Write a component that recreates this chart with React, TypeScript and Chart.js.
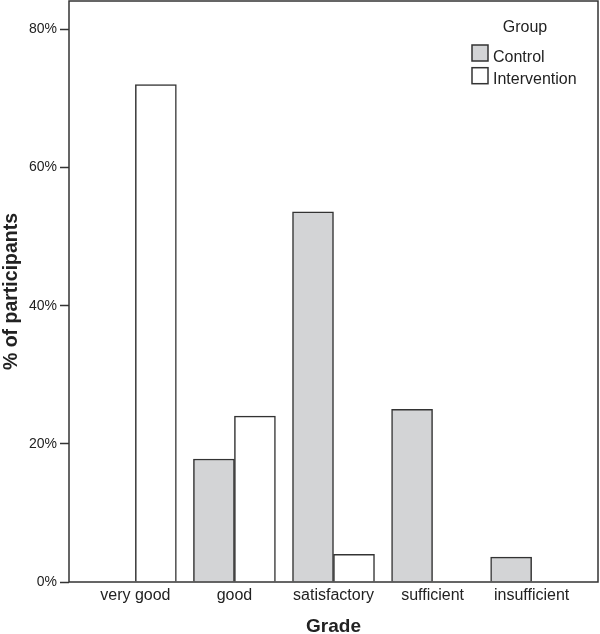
import React, { useEffect, useRef } from 'react';
import { Chart, registerables } from 'chart.js';

Chart.register(...registerables);

const categories = ['very good', 'good', 'satisfactory', 'sufficient', 'insufficient'];
const controlValues = [0, 17.8, 53.6, 25.0, 3.6];
const interventionValues = [72.0, 24.0, 4.0, 0, 0];
const seriesNames = ['Control', 'Intervention'];
const seriesColors = ['#d3d4d6', '#ffffff'];
const yTickValues = [0, 20, 40, 60, 80];
const legendTitle = 'Group';
const xTitle = 'Grade';
const yTitle = '% of participants';

const FONT = "'Liberation Sans', Arial, Helvetica, sans-serif";
const INK = '#222222';
const LINE = '#333333';

const framePlugin = {
  id: 'frame',
  afterDatasetsDraw(chart: any) {
    const { ctx, chartArea } = chart;
    ctx.save();
    ctx.strokeStyle = LINE;
    ctx.lineWidth = 1.5;
    ctx.strokeRect(chartArea.left, chartArea.top, chartArea.right - chartArea.left, chartArea.bottom - chartArea.top);
    ctx.restore();
  },
};

const legendPlugin = {
  id: 'customLegend',
  afterDraw(chart: any) {
    const { ctx, chartArea } = chart;
    const boxLeft = chartArea.right - 126;
    const top = chartArea.top;
    ctx.save();
    ctx.font = `16px ${FONT}`;
    ctx.fillStyle = INK;
    ctx.textAlign = 'center';
    ctx.textBaseline = 'alphabetic';
    ctx.fillText(legendTitle, boxLeft + 53, top + 31);
    chart.data.datasets.forEach((ds: any, i: number) => {
      const y = top + 44 + i * 22.7;
      ctx.fillStyle = ds.backgroundColor;
      ctx.fillRect(boxLeft, y, 16, 16);
      ctx.strokeStyle = LINE;
      ctx.lineWidth = 1.5;
      ctx.strokeRect(boxLeft, y, 16, 16);
      ctx.fillStyle = INK;
      ctx.textAlign = 'left';
      ctx.fillText(ds.label, boxLeft + 21, y + 16.5);
    });
    ctx.restore();
  },
};

export default function App() {
  const canvasRef = useRef<HTMLCanvasElement | null>(null);

  useEffect(() => {
    document.body.style.margin = '0';
    const canvas = canvasRef.current;
    if (!canvas) return;
    const chart = new Chart(canvas, {
      type: 'bar',
      data: {
        datasets: [
          {
            label: seriesNames[0],
            data: categories.map((_, i) => ({ x: i, y: controlValues[i] })),
            backgroundColor: seriesColors[0],
            borderColor: LINE,
            borderWidth: 1.5,
            barThickness: 41,
          },
          {
            label: seriesNames[1],
            data: categories.map((_, i) => ({ x: i, y: interventionValues[i] })),
            backgroundColor: seriesColors[1],
            borderColor: LINE,
            borderWidth: 1.5,
            barThickness: 41,
          },
        ],
      } as any,
      options: {
        animation: false,
        responsive: false,
        devicePixelRatio: 1,
        layout: { padding: { top: 1, right: 2, left: 0, bottom: 0 } },
        font: { family: FONT },
        plugins: {
          legend: { display: false },
          tooltip: { enabled: false },
        },
        scales: {
          x: {
            type: 'linear',
            offset: false,
            min: -0.67,
            max: 4.67,
            afterBuildTicks: (s: any) => {
              s.ticks = categories.map((_, i) => ({ value: i }));
            },
            afterFit: (s: any) => {
              s.height = 52;
              s.paddingLeft = 0;
              s.paddingRight = 0;
            },
            grid: { display: false, drawTicks: false, tickLength: 0, offset: false },
            border: { display: false },
            ticks: {
              callback: (v: any) => categories[v] ?? '',
              autoSkip: false,
              maxRotation: 0,
              minRotation: 0,
              padding: 4,
              color: INK,
              font: { size: 16, family: FONT },
            },
            title: {
              display: true,
              text: xTitle,
              color: INK,
              font: { size: 19, weight: 'bold', family: FONT, lineHeight: 1 },
              padding: { top: 0, bottom: -2 },
            },
          },
          y: {
            min: 0,
            max: 84.1,
            afterBuildTicks: (s: any) => {
              s.ticks = yTickValues.map((v) => ({ value: v }));
            },
            afterFit: (s: any) => {
              s.width = 69;
              s.paddingTop = 0;
              s.paddingBottom = 0;
            },
            grid: {
              drawOnChartArea: false,
              drawTicks: true,
              tickLength: 9,
              tickColor: LINE,
              tickWidth: 1.5,
            },
            border: { display: false },
            ticks: {
              callback: (v: any) => `${v}%`,
              padding: 3,
              color: INK,
              font: { size: 14, family: FONT },
            },
            title: {
              display: true,
              text: yTitle,
              color: INK,
              font: { size: 19.5, weight: 'bold', family: FONT, lineHeight: 1 },
              padding: { top: 1.5, bottom: 0 },
            },
          },
        },
      } as any,
      plugins: [framePlugin, legendPlugin],
    });
    return () => chart.destroy();
  }, []);

  return (
    <div style={{ width: 600, height: 634 }}>
      <canvas ref={canvasRef} width={600} height={634} style={{ display: 'block' }} />
    </div>
  );
}
